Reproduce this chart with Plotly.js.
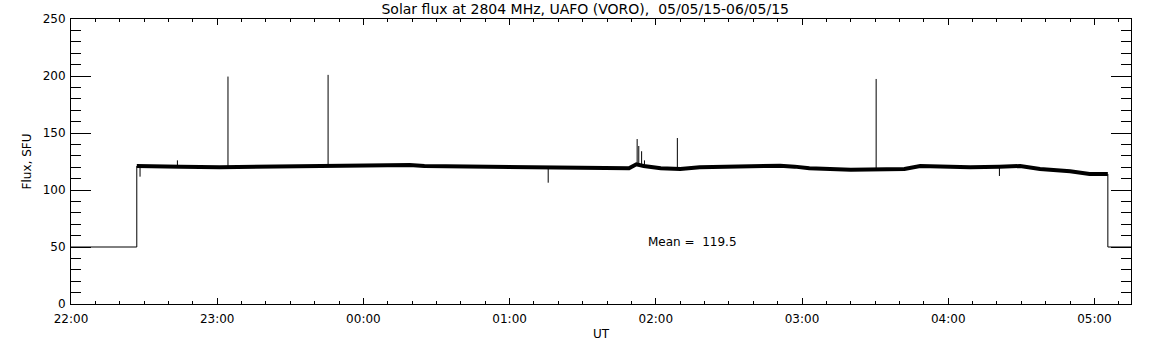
<!DOCTYPE html>
<html>
<head>
<meta charset="utf-8">
<script src="https://cdn.plot.ly/plotly-3.0.1.min.js"></script>
<style>html,body{margin:0;padding:0;background:#fff;}#chart{width:1152px;height:345px;}</style>
</head>
<body>
<div id="chart"></div>
<script>
// Smoothed flux baseline (SFU)
const baseTimes = [
  "2015-05-05 22:27:00","2015-05-05 22:28:00","2015-05-05 22:45:00","2015-05-05 23:01:00","2015-05-05 23:17:30",
  "2015-05-05 23:34:00","2015-05-05 23:54:30","2015-05-06 00:11:00","2015-05-06 00:19:00","2015-05-06 00:25:00",
  "2015-05-06 00:44:00","2015-05-06 01:08:30","2015-05-06 01:29:00","2015-05-06 01:49:00","2015-05-06 01:52:00",
  "2015-05-06 01:55:00","2015-05-06 02:02:00","2015-05-06 02:10:00","2015-05-06 02:18:00","2015-05-06 02:34:40",
  "2015-05-06 02:51:00","2015-05-06 02:57:00","2015-05-06 03:03:00","2015-05-06 03:20:00","2015-05-06 03:32:00",
  "2015-05-06 03:42:00","2015-05-06 03:48:30","2015-05-06 03:56:30","2015-05-06 04:09:00","2015-05-06 04:21:00",
  "2015-05-06 04:29:30","2015-05-06 04:37:40","2015-05-06 04:50:00","2015-05-06 04:58:00","2015-05-06 05:05:30"
];
const baseFlux = [
  121, 121, 120.5, 120, 120.5,
  121, 121, 121.5, 122, 121,
  120.5, 120, 119.5, 119, 122.5,
  121, 119, 118.5, 120, 120.5,
  121.3, 120.5, 119, 117.8, 118,
  118.5, 121, 120.5, 120, 120.5,
  121, 118.5, 116.5, 114, 114
];
// Off-sun levels before and after the observation
const edgeTimes = ["2015-05-05 22:00:00","2015-05-05 22:27:00","2015-05-05 22:27:00",null,
                   "2015-05-06 05:05:30","2015-05-06 05:05:30","2015-05-06 05:15:00"];
const edgeFlux  = [50, 50, 121, null, 114, 50, 50];
// Bursts / spikes: time, base level, peak
const spikeTimes = ["2015-05-05 22:28:20","2015-05-05 22:43:40","2015-05-05 23:04:25","2015-05-05 23:45:30",
                    "2015-05-06 01:15:50","2015-05-06 01:52:20","2015-05-06 01:53:00","2015-05-06 01:54:10",
                    "2015-05-06 01:55:20","2015-05-06 02:08:50","2015-05-06 03:30:25","2015-05-06 04:21:00"];
const spikeBase = [121, 120.5, 120, 121, 120, 121, 122, 122, 121, 118.5, 118, 120.5];
const spikePeak = [111.7, 126, 199.5, 201, 106.4, 144.7, 138.6, 134, 126, 145.6, 197.4, 112.3];
const meanFlux = 119.5;
const titleText = "Solar flux at 2804 MHz, UAFO (VORO),  05/05/15-06/05/15";

const sx = [], sy = [];
for (let i = 0; i < spikeTimes.length; i++) {
  sx.push(spikeTimes[i], spikeTimes[i], null);
  sy.push(spikeBase[i], spikePeak[i], null);
}

const font = {family: "DejaVu Sans, sans-serif", size: 12, color: "#000"};
const traces = [
  {x: baseTimes, y: baseFlux, mode: "lines", line: {color: "#000", width: 4}, hoverinfo: "skip"},
  {x: edgeTimes, y: edgeFlux, mode: "lines", line: {color: "#000", width: 1}, connectgaps: false, hoverinfo: "skip"},
  {x: sx, y: sy, mode: "lines", line: {color: "#000", width: 1}, connectgaps: false, hoverinfo: "skip"}
];
const layout = {
  width: 1152, height: 345,
  margin: {l: 71, r: 21, t: 19, b: 41},
  paper_bgcolor: "#fff", plot_bgcolor: "#fff",
  showlegend: false,
  font: font,
  title: {text: titleText, font: {family: font.family, size: 14, color: "#000"}, x: 0.508, xanchor: "center",
          yref: "container", y: 0.988, yanchor: "top", pad: {t: 0, b: 0}},
  xaxis: {
    type: "date", range: ["2015-05-05 22:00:00", "2015-05-06 05:15:00"],
    tickformat: "%H:%M", dtick: 3600000, tick0: "2015-05-05 22:00:00",
    ticks: "inside", ticklen: 6, tickwidth: 1, tickcolor: "#000",
    minor: {dtick: 600000, ticks: "inside", ticklen: 3, tickwidth: 1, tickcolor: "#000"},
    showline: true, linecolor: "#000", linewidth: 1, mirror: "ticks",
    showgrid: false, zeroline: false, ticklabelstandoff: 4,
    title: {text: "UT", font: font, standoff: 4},
    tickfont: font
  },
  yaxis: {
    range: [0, 250], dtick: 50, tick0: 0,
    ticks: "inside", ticklen: 20, tickwidth: 1, tickcolor: "#000",
    minor: {dtick: 10, ticks: "inside", ticklen: 10, tickwidth: 1, tickcolor: "#000"},
    showline: true, linecolor: "#000", linewidth: 1, mirror: "ticks",
    showgrid: false, zeroline: false, ticklabelstandoff: 2,
    title: {text: "Flux, SFU", font: font, standoff: 8},
    tickfont: font
  },
  annotations: [{
    xref: "paper", yref: "paper", x: (692 - 71) / 1060, y: (304 - 242) / 285,
    text: "Mean =  " + meanFlux.toFixed(1), showarrow: false, font: font,
    xanchor: "center", yanchor: "middle"
  }]
};
Plotly.newPlot("chart", traces, layout, {staticPlot: true, displayModeBar: false});
</script>
</body>
</html>
